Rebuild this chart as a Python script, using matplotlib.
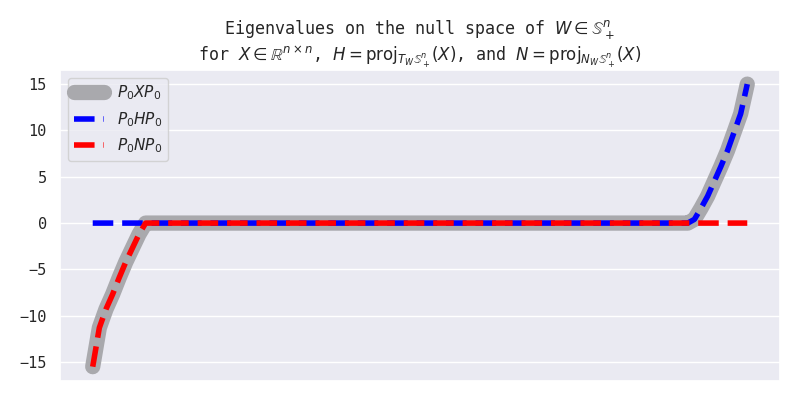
import numpy as np
import matplotlib
matplotlib.use("Agg")
import matplotlib.pyplot as plt
import seaborn as sns

# Sorted eigenvalues of P0 X P0
neg_vals = [-15.5, -11.3, -9.3, -7.7, -5.9, -4.2, -2.7, -1.2]
n_zero = 83
pos_vals = [0.4, 1.6, 2.9, 4.5, 6.1, 7.8, 9.8, 11.8, 15.0]

eig_X = np.array(neg_vals + [0.0] * n_zero + pos_vals)
eig_H = np.maximum(eig_X, 0.0)
eig_N = np.minimum(eig_X, 0.0)
idx = np.arange(len(eig_X))

yticks = [-15, -10, -5, 0, 5, 10, 15]

sns.set_theme(style="darkgrid")
plt.rcParams["font.family"] = "monospace"
plt.rcParams["font.monospace"] = ["DejaVu Sans Mono"]
plt.rcParams["mathtext.fontset"] = "dejavusans"

fig, ax = plt.subplots(figsize=(8, 4), dpi=100)
ax.plot(idx, eig_X, color="#a9a9ad", lw=11, solid_capstyle="round",
        label=r"$P_0XP_0$")
ax.plot(idx, eig_H, color="blue", lw=4, ls="--", label=r"$P_0HP_0$")
ax.plot(idx, eig_N, color="red", lw=4, ls="--", label=r"$P_0NP_0$")

ax.set_xticks([])
ax.set_yticks(yticks)
ax.set_title("Eigenvalues on the null space of $W \\in \\mathbb{S}^n_+$\n"
             "for $X \\in \\mathbb{R}^{n\\times n}$, "
             "$H = \\mathrm{proj}_{T_W\\mathbb{S}^n_+}(X)$, and "
             "$N = \\mathrm{proj}_{N_W\\mathbb{S}^n_+}(X)$", fontsize=12)
ax.legend(loc="upper left")

fig.subplots_adjust(left=0.075, right=0.975, top=0.825, bottom=0.048)
fig.savefig("out.png", dpi=100)
